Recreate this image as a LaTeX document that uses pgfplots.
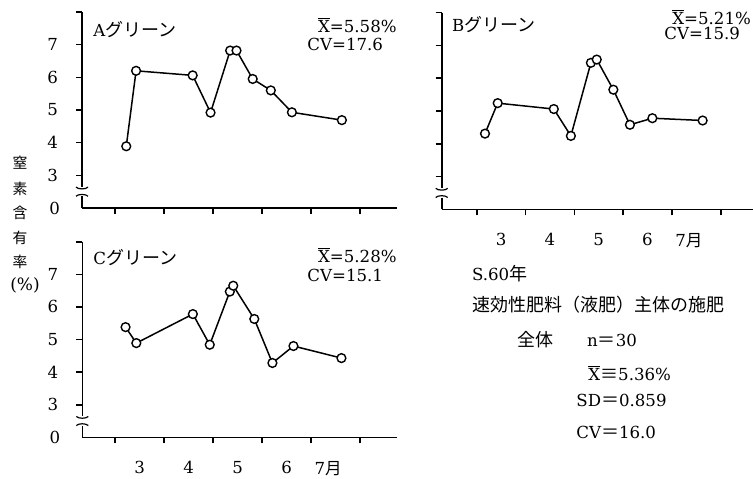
\documentclass[border=0pt]{standalone}
\usepackage{fontspec}
\setmainfont{DejaVu Serif}
\newfontfamily\cjk{Noto Sans CJK JP}
\usepackage{pgfplots}
\pgfplotsset{compat=1.18}
\newcommand{\lt}{\fontsize{8.3}{10}\selectfont}
\newcommand{\jp}[1]{{\cjk\fontsize{9}{11}\selectfont #1}}
\newcommand{\xbar}{$\overline{\mbox{X}}$}
\pgfplotsset{
  panel/.style={
    scale only axis,
    anchor=south west,
    axis lines=left,
    axis line style={-, line width=0.8pt},
    y axis line style={draw=none},
    tick align=outside,
    major tick length=3pt,
    tick style={line width=0.8pt, black},
    ymin=2, ymax=8,
    ytick={3,4,5,6,7,8},
    xtick={3,4,5,6,7,8},
    xticklabels={{},{},{},{},{},{}},
    ticklabel style={font=\lt},
    /pgf/number format/assume math mode=true,
    clip=false,
  },
  ylabs/.style={
    yticklabels={3,4,5,6,7,{}},
    yticklabel style={xshift=-5.5pt},
    extra y ticks={2},
    extra y tick labels={0},
    extra y tick style={major tick length=0pt, yticklabel style={xshift=-2pt}},
  },
  nolabs/.style={yticklabels={{},{},{},{},{},{}}},
  xlabs/.style={
    extra x ticks={3.5,4.5,5.5,6.5,7.35},
    extra x tick labels={3,4,5,6,{7{\cjk 月}}},
    extra x tick style={major tick length=0pt, xticklabel style={yshift=-8.5pt}},
  },
  data/.style={black, line width=0.75pt, mark=*, mark size=2.2pt,
    mark options={fill=white, draw=black, line width=0.7pt, solid}},
}
\newcommand{\brk}[3]{% xmin, top of gap, bottom of gap
  \draw[line width=0.8pt] (axis cs:#1,8) -- (axis cs:#1,#2);
  \draw[line width=0.8pt] (axis cs:#1,#3) -- (axis cs:#1,2);
  \draw[line width=0.6pt] ([xshift=-3pt]axis cs:#1,#2) .. controls +(1pt,-1.2pt) and +(-1pt,-1.2pt) .. ([xshift=3pt]axis cs:#1,#2);
  \draw[line width=0.6pt] ([xshift=-3pt]axis cs:#1,#3) .. controls +(1pt,1.2pt) and +(-1pt,1.2pt) .. ([xshift=3pt]axis cs:#1,#3);
}
\begin{document}
\begin{tikzpicture}
\path[use as bounding box] (0,0) rectangle (376.5pt,239pt);
% Panel A
\begin{axis}[panel, ylabs, at={(41pt,135pt)}, width=157.5pt, height=98pt,
  xmin=2.3265, xmax=8.755]
\addplot[data] coordinates {(3.23,3.89) (3.43,6.2) (4.585,6.06) (4.95,4.92) (5.35,6.82) (5.48,6.82) (5.81,5.95) (6.18,5.6) (6.61,4.93) (7.63,4.69)};
\brk{2.3265}{2.64}{2.36}
\end{axis}
% Panel B
\begin{axis}[panel, nolabs, xlabs, at={(220.85pt,134.35pt)}, width=155.65pt, height=98.3pt,
  xmin=2.283, xmax=8.662]
\addplot[data] coordinates {(3.17,4.31) (3.43,5.24) (4.58,5.06) (4.93,4.24) (5.34,6.47) (5.46,6.57) (5.80,5.65) (6.14,4.58) (6.60,4.78) (7.63,4.71)};
\brk{2.283}{2.64}{2.36}
\end{axis}
% Panel C
\begin{axis}[panel, ylabs, xlabs, at={(41.15pt,20.35pt)}, width=157.35pt, height=97.8pt,
  xmin=2.3265, xmax=8.755]
\addplot[data] coordinates {(3.21,5.38) (3.43,4.89) (4.585,5.78) (4.93,4.84) (5.34,6.47) (5.41,6.65) (5.84,5.63) (6.21,4.28) (6.64,4.80) (7.62,4.43)};
\brk{2.3265}{2.64}{2.36}
\end{axis}
% panel texts
\node[anchor=west, inner sep=0pt] at (46.5pt,224pt) {\lt A\jp{グリーン}};
\node[anchor=east, inner sep=0pt] at (198.5pt,226.5pt) {\lt \xbar=5.58\%};
\node[anchor=west, inner sep=0pt] at (153.5pt,217pt) {\lt CV=17.6};
\node[anchor=west, inner sep=0pt] at (225.85pt,226.5pt) {\lt B\jp{グリーン}};
\node[anchor=west, inner sep=0pt] at (336pt,230.5pt) {\lt \xbar=5.21\%};
\node[anchor=west, inner sep=0pt] at (332pt,222.5pt) {\lt CV=15.9};
\node[anchor=west, inner sep=0pt] at (46.5pt,110pt) {\lt C\jp{グリーン}};
\node[anchor=east, inner sep=0pt] at (198.5pt,111.5pt) {\lt \xbar=5.28\%};
\node[anchor=west, inner sep=0pt] at (153.5pt,101.5pt) {\lt CV=15.1};
% y title
\foreach \c/\yy in {窒/157.5, 素/144.5, 含/132.5, 有/120, 率/108}
  \node[inner sep=0pt] at (10pt,\yy pt) {\cjk\fontsize{7.4}{8}\selectfont \c};
\node[inner sep=0pt] at (12.5pt,96.5pt) {\fontsize{8.5}{9}\selectfont (\%)};
% summary block
\node[anchor=west, inner sep=0pt] at (235.85pt,102pt) {\lt S.60\jp{年}};
\node[anchor=west, inner sep=0pt] at (235.85pt,86.5pt) {\jp{速効性肥料（液肥）主体の施肥}};
\node[anchor=west, inner sep=0pt] at (258.35pt,69pt) {\jp{全体}};
\node[anchor=west, inner sep=0pt] at (293.35pt,69pt) {\lt n\jp{＝}30};
\node[anchor=west, inner sep=0pt] at (294pt,52.5pt) {\lt \xbar\jp{≡}5.36\%};
\node[anchor=west, inner sep=0pt] at (288pt,39pt) {\lt SD\jp{＝}0.859};
\node[anchor=west, inner sep=0pt] at (288pt,23pt) {\lt CV\jp{＝}16.0};
\end{tikzpicture}
\end{document}
